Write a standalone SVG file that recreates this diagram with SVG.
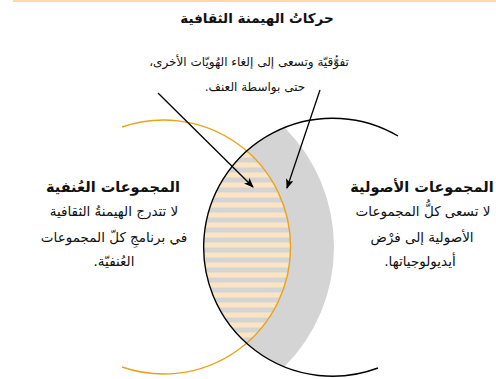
<svg xmlns="http://www.w3.org/2000/svg" width="496" height="379" viewBox="0 0 496 379">
  <style>
    .t { font-family: "DejaVu Sans", "Noto Sans", sans-serif; fill: #111; direction: rtl; unicode-bidi: embed; text-anchor: middle; }
    .title { font-size: 14.5px; font-weight: bold; }
    .top { font-size: 13.5px; font-weight: bold; }
    .body { font-size: 13.5px; }
    .sub { font-size: 12px; }
    .conn { stroke: #000; stroke-width: 1.3; fill: none; }
  </style>
  <defs>
    <pattern id="stripes" patternUnits="userSpaceOnUse" x="0" y="0" width="10" height="10">
      <rect x="0" y="0" width="10" height="10" fill="#d4d4d4"/>
      <rect x="0" y="2.5" width="10" height="5" fill="#fde5c3"/>
    </pattern>
    <marker id="arr" viewBox="0 0 10 8" refX="9" refY="4" markerWidth="10" markerHeight="8" markerUnits="userSpaceOnUse" orient="auto">
      <path d="M0,0 L10,4 L0,8 L2.5,4 z" fill="#000"/>
    </marker>
  </defs>

  <line x1="13" y1="1" x2="496" y2="1" stroke="#fbdba6" stroke-width="2"/>

  <g id="crescent">
    <path d="M284.5,127.5 A169,169 0 0 1 284.5,366.5 A129,129 0 0 1 284.5,127.5 Z" fill="#d4d4d4"/>
  </g>
  <g id="lens">
    <path d="M247,151 A127,127 0 0 1 247,343 A129,129 0 0 1 247,151 Z" fill="url(#stripes)"/>
  </g>
  <g id="circle-violent">
    <path d="M122,127 A127,127 0 1 1 122,367" fill="none" stroke="#e8a317" stroke-width="1.4"/>
  </g>
  <g id="circle-fundamentalist">
    <path d="M378,368 A129,129 0 1 1 398,136" fill="none" stroke="#000" stroke-width="1.4"/>
  </g>

  <g id="connectors">
    <line class="conn" x1="158" y1="93" x2="253" y2="187" marker-end="url(#arr)"/>
    <line class="conn" x1="320" y1="90" x2="287" y2="188" marker-end="url(#arr)"/>
  </g>

  <g id="hegemony">
    <text class="t top" x="257" y="23">حركاتُ الهيمنة الثقافية</text>
    <text class="t sub" x="249" y="66">تفوُّقيّة وتسعى إلى إلغاء الهُويّات الأخرى،</text>
    <text class="t sub" x="255" y="91">حتى بواسطة العنف.</text>
  </g>

  <g id="violent">
    <text class="t title" x="113" y="192">المجموعات العُنفية</text>
    <text class="t body" x="114" y="216">لا تتدرج الهيمنةُ الثقافية</text>
    <text class="t body" x="114" y="242">في برنامجِ كلّ المجموعات</text>
    <text class="t body" x="114" y="266">العُنفيّة.</text>
  </g>

  <g id="fundamentalist">
    <text class="t title" x="422" y="192">المجموعات الأصولية</text>
    <text class="t body" x="423" y="216">لا تسعى كلُّ المجموعات</text>
    <text class="t body" x="422" y="242">الأصولية إلى فرْض</text>
    <text class="t body" x="420" y="266">أيديولوجياتها.</text>
  </g>
</svg>
